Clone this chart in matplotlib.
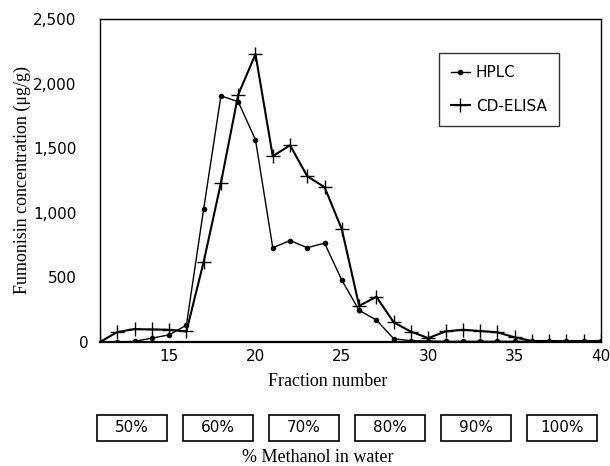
import matplotlib
matplotlib.use("Agg")
import matplotlib.pyplot as plt
from matplotlib.patches import Rectangle
import matplotlib.transforms as mtransforms

# ---- data ----
fractions = list(range(11, 41))
hplc = [0, 0, 5, 30, 55, 130, 1030, 1905, 1860, 1565, 730, 785, 730, 765, 478,
        245, 170, 25, 10, 8, 5, 5, 5, 5, 5, 5, 5, 5, 5, 5]
elisa = [0, 77, 100, 97, 95, 82, 620, 1232, 1914, 2228, 1438, 1523, 1283, 1198, 872,
         280, 350, 152, 80, 30, 82, 95, 85, 75, 36, 8, 8, 5, 8, 8]
x_ticks = [15, 20, 25, 30, 35, 40]
y_ticks = [0, 500, 1000, 1500, 2000, 2500]
y_tick_labels = ["0", "500", "1,000", "1,500", "2,000", "2,500"]
methanol_labels = ["50%", "60%", "70%", "80%", "90%", "100%"]

W, H = 610, 466
fig = plt.figure(figsize=(W / 100, H / 100), dpi=100)
ax = fig.add_axes([100 / W, 1 - 342 / H, 501 / W, 323 / H])

ax.plot(fractions, hplc, color="black", lw=1.0, marker="o", ms=3,
        label="HPLC")
ax.plot(fractions, elisa, color="black", lw=1.5, marker="+", ms=10, mew=1.0,
        label="CD-ELISA")

ax.set_xlim(11, 40)
ax.set_ylim(0, 2500)
ax.set_xticks(x_ticks)
ax.set_yticks(y_ticks)
ax.set_yticklabels(y_tick_labels)
ax.tick_params(axis="both", length=0, labelsize=11)
ax.tick_params(axis="y", pad=17)
ax.tick_params(axis="x", pad=5)
for s in ax.spines.values():
    s.set_linewidth(1.0)
ax.spines["bottom"].set_linewidth(1.6)

# shift the "0" y label closer to the axis, as in the reference
lab0 = ax.get_yticklabels()[0]
lab0.set_transform(lab0.get_transform() +
                   mtransforms.ScaledTranslation(12 / 100, 0, fig.dpi_scale_trans))

serif = "Liberation Serif"
fig.text(22 / W, 1 - 180 / H, "Fumonisin concentration (\u03bcg/g)", fontsize=13,
         family=serif, rotation=90, ha="center", va="center")
fig.text(328 / W, 1 - 381 / H, "Fraction number", fontsize=13, family=serif,
         ha="center", va="center")
fig.text(318 / W, 1 - 458 / H, "% Methanol in water", fontsize=13, family=serif,
         ha="center", va="center")

leg = ax.legend(loc="upper left", bbox_to_anchor=(439 / W, 1 - 53 / H),
                bbox_transform=fig.transFigure, frameon=True, fancybox=False,
                edgecolor="black", fontsize=11, handlelength=1.2,
                handletextpad=0.4, labelspacing=1.2, borderpad=0.8,
                borderaxespad=0)
leg.get_frame().set_linewidth(1.0)

# methanol boxes below the chart
box_w, box_h = 70, 26
for i, lab in enumerate(methanol_labels):
    cx = 132 + 86 * i
    cy = 428
    fig.patches.append(Rectangle(((cx - box_w / 2) / W, 1 - (cy + box_h / 2) / H),
                                 box_w / W, box_h / H, transform=fig.transFigure,
                                 fill=False, edgecolor="black", lw=1.2))
    fig.text(cx / W, 1 - cy / H, lab, fontsize=11, ha="center", va="center")

fig.savefig("out.png", dpi=100)
